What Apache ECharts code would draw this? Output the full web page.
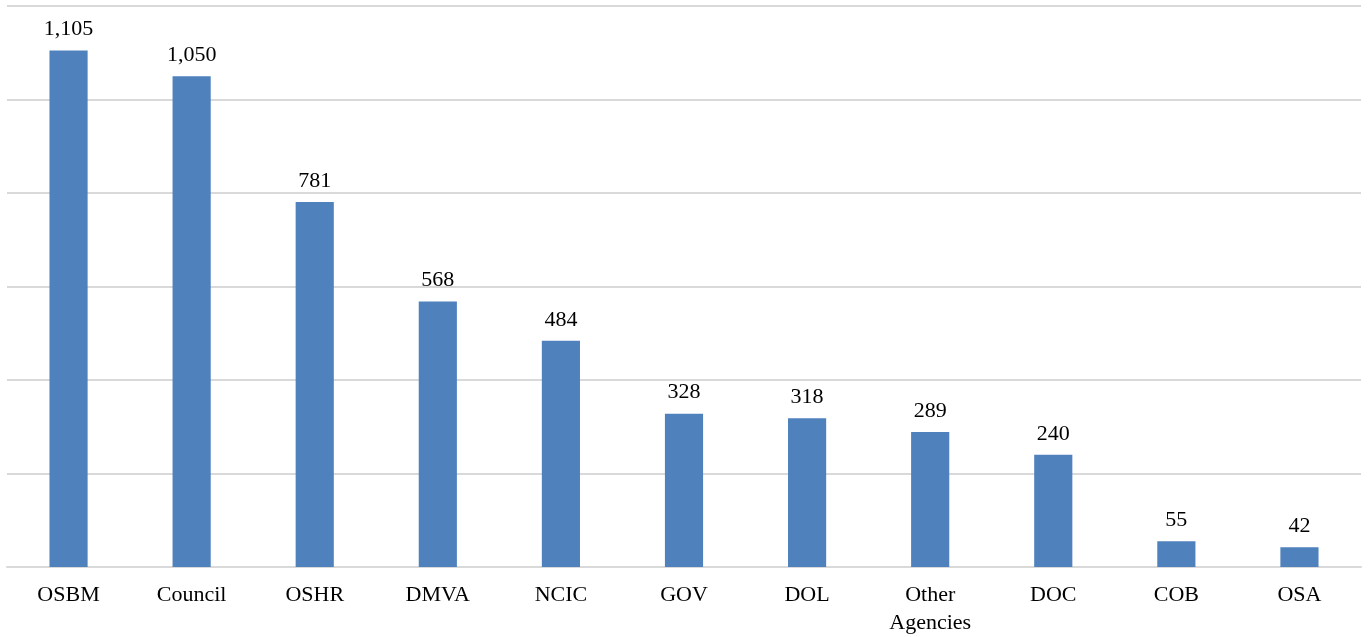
<!DOCTYPE html>
<html>
<head>
<meta charset="utf-8">
<script src="https://cdn.jsdelivr.net/npm/echarts@6/dist/echarts.min.js"></script>
<style>html,body{margin:0;padding:0;background:#fff;}#c{width:1370px;height:637px;}</style>
</head>
<body>
<div id="c"></div>
<script>
const categories = ['OSBM','Council','OSHR','DMVA','NCIC','GOV','DOL','Other\nAgencies','DOC','COB','OSA'];
const values = [1105,1050,781,568,484,328,318,289,240,55,42];
const yMin = 0, yMax = 1200, yStep = 200;

const chart = echarts.init(document.getElementById('c'));
chart.setOption({
  animation: false,
  backgroundColor: '#fff',
  grid: {left: 7, right: 9, top: 6, bottom: 58, containLabel: false},
  xAxis: {
    type: 'category',
    data: categories,
    axisLine: {lineStyle: {color: '#d9d9d9', width: 2}},
    axisTick: {show: false},
    axisLabel: {fontFamily: 'Liberation Serif', fontSize: 22, color: '#000', margin: 14, lineHeight: 28, interval: 0}
  },
  yAxis: {
    type: 'value', min: yMin, max: yMax, interval: yStep,
    axisLabel: {show: false}, axisLine: {show: false}, axisTick: {show: false},
    splitLine: {lineStyle: {color: '#d9d9d9', width: 2}}
  },
  series: [{
    type: 'bar',
    data: values,
    barWidth: '31%',
    itemStyle: {color: '#4f81bd'},
    label: {
      show: true, position: 'top', distance: 10,
      fontFamily: 'Liberation Serif', fontSize: 22, color: '#000',
      formatter: p => p.value.toLocaleString('en-US')
    }
  }]
});
</script>
</body>
</html>
